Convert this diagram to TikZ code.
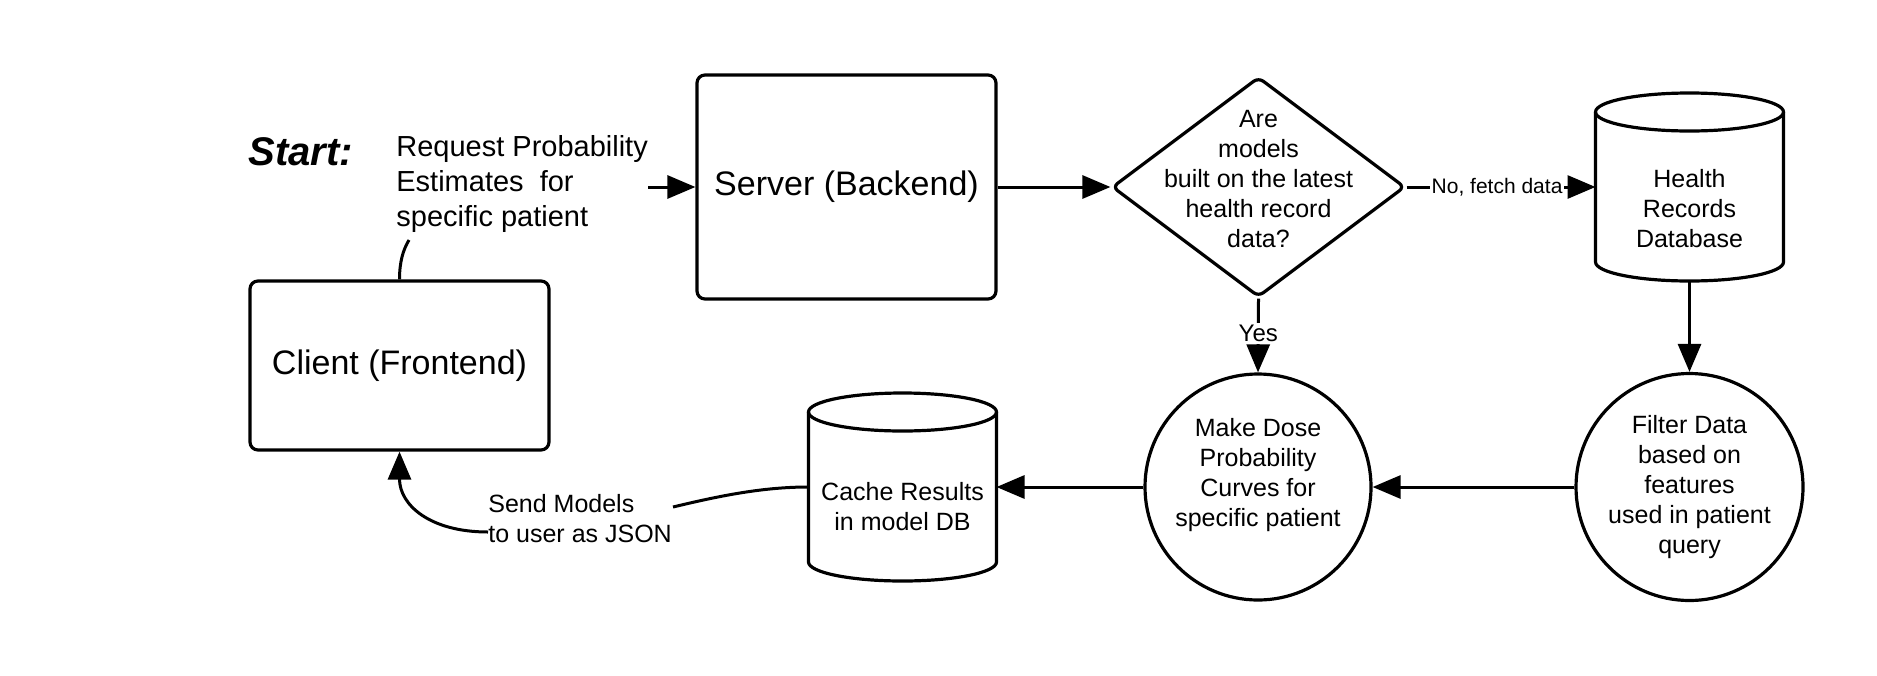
\documentclass[tikz,border=0pt]{standalone}
\usepackage{fontspec}
\setmainfont{Liberation Sans}
\usetikzlibrary{shapes.geometric,arrows.meta,calc}
\begin{document}
\begin{tikzpicture}[x=0.5pt,y=0.5pt,
  box/.style={draw, line width=1.6pt, rounded corners=4pt, inner sep=0pt, font=\fontsize{17}{20}\selectfont, align=center},
  circ/.style={draw, circle, line width=1.6pt, inner sep=0pt, minimum size=113pt, font=\fontsize{12.5}{15}\selectfont, align=center},
  cyl/.style={inner sep=0pt, outer sep=0pt, minimum width=94pt, minimum height=94pt},
  txt/.style={font=\fontsize{12.5}{15}\selectfont, align=center, inner sep=0pt},
  conn/.style={line width=1.5pt, -{Triangle[length=14pt,width=11.5pt]}},
  plain/.style={line width=1.5pt},
  lbl/.style={fill=white, inner sep=1pt},
  cylline/.style={line width=1.6pt, line join=round},
]
\useasboundingbox (0,0) rectangle (1877,-675);

% nodes
\node[box, minimum width=149.5pt, minimum height=84.5pt] (client) at (399.5,-365.5) {Client (Frontend)};
\node[box, minimum width=149.5pt, minimum height=112pt] (server) at (846.5,-187) {Server (Backend)};
\node[draw, diamond, line width=1.6pt, rounded corners=3pt, inner sep=0pt, minimum width=146.5pt, minimum height=110pt] (q) at (1258.5,-187) {};
\node[txt] (qtext) at (1258.5,-179.5) {Are\\models\\built on the latest\\health record\\data?};
\node[cyl] (hr) at (1689.5,-187) {};
\node[txt] (hrtext) at (1689.5,-209) {Health\\Records\\Database};
\node[circ, minimum size=113.5pt] (filter) at (1689.5,-487) {Filter Data\\based on\\features\\used in patient\\query};
\node[circ] (dose) at (1258,-487) {Make Dose\\Probability\\Curves for\\specific patient\\\mbox{}};
\node[cyl] (cache) at (902.5,-487) {};
\node[txt] (cachetext) at (902.5,-507) {Cache Results\\in model DB};
\node[txt, font=\fontsize{12.5}{15}\selectfont, align=left, anchor=north west] (send) at (488,-494) {Send Models\\to user as JSON};
\node[font=\fontsize{20}{24}\selectfont\bfseries\itshape, inner sep=0pt, anchor=base west] (start) at (248,-165) {Start:};
\node[font=\fontsize{14.5}{17.5}\selectfont, align=left, inner sep=0pt, anchor=north west] (req) at (396,-135.5) {Request Probability\\Estimates\ \ for\\specific patient};

% cylinders
\foreach \c in {hr,cache} {
  \draw[cylline] ($(\c.north west)+(0,-9.5pt)$) -- ($(\c.south west)+(0,9.5pt)$)
    arc[start angle=180,end angle=360,x radius=47pt,y radius=9.5pt]
    -- ($(\c.north east)+(0,-9.5pt)$);
  \draw[cylline] ($(\c.north)+(0,-9.5pt)$) ellipse[x radius=47pt,y radius=9.5pt];
}

% free ends
\coordinate (reqbot) at (409,-240);
\coordinate (reqarrow) at (648,-187);
\coordinate (sendtop) at (673,-507);
\coordinate (sendleft) at (488,-532);

% connectors
\draw[plain] (client.north) .. controls (399.5,-262) and (403,-250) .. (reqbot);
\draw[conn] (reqarrow) -- (server.west);
\draw[conn] (server.east) -- (q.west);
\draw[conn] (q.east) -- node[lbl, font=\fontsize{10.5}{12}\selectfont, xshift=-2pt] (nolbl) {No, fetch data} (hr.west);
\draw[conn] (q.south) -- node[lbl, font=\fontsize{12}{14}\selectfont, yshift=1pt] (yeslbl) {Yes} (dose.north);
\draw[conn] (hr.south) -- (filter.north);
\draw[conn] (filter.west) -- (dose.east);
\draw[conn] (dose.west) -- (cache.east);
\draw[plain] (cache.west) .. controls (760,-487) and (715,-497) .. (sendtop);
\draw[conn] (sendleft) .. controls (430,-532) and (399.5,-505) .. (client.south);
\end{tikzpicture}
\end{document}
